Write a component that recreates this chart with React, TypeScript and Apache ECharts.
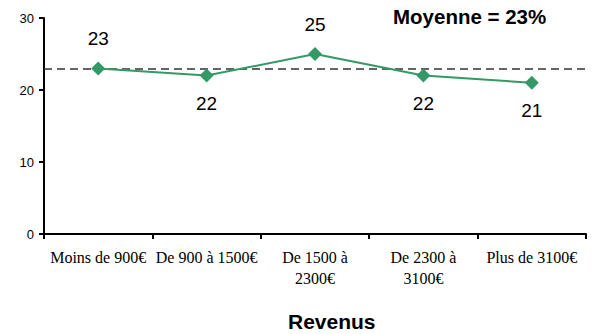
import React, { useEffect, useRef } from "react";
import * as echarts from "echarts";

const categories = [
  "Moins de 900€",
  "De 900 à 1500€",
  "De 1500 à 2300€",
  "De 2300 à 3100€",
  "Plus de 3100€",
];
const wrappedCategories = ["De 1500 à 2300€", "De 2300 à 3100€"];
const values = [23, 22, 25, 22, 21];
const labelPositions = ["top", "bottom", "top", "bottom", "bottom"];
const meanValue = 23;
const meanText = "Moyenne = 23%";
const xAxisTitle = "Revenus";
const yTicks = { min: 0, max: 30, interval: 10 };

export default function App() {
  const ref = useRef<HTMLDivElement>(null);
  useEffect(() => {
    if (!ref.current) return;
    const chart = echarts.init(ref.current, null, { renderer: "svg" });
    chart.setOption({
      animation: false,
      backgroundColor: "#ffffff",
      grid: { left: 44, right: 17, top: 18, bottom: 100 },
      xAxis: {
        type: "category",
        data: categories,
        boundaryGap: true,
        axisLine: { lineStyle: { color: "#000", width: 2 } },
        axisTick: { show: true, length: 5, lineStyle: { color: "#000", width: 2 } },
        axisLabel: {
          color: "#000",
          fontFamily: "Liberation Serif",
          fontSize: 16,
          lineHeight: 21,
          margin: 13,
          interval: 0,
          formatter: (v: string) =>
            wrappedCategories.includes(v) ? v.replace(" à ", " à\n") : v,
        },
      },
      yAxis: {
        type: "value",
        min: yTicks.min,
        max: yTicks.max,
        interval: yTicks.interval,
        splitLine: { show: false },
        axisLine: { show: true, lineStyle: { color: "#000", width: 2 } },
        axisTick: { show: true, length: 5, lineStyle: { color: "#000", width: 2 } },
        axisLabel: {
          color: "#000",
          fontFamily: "Liberation Sans",
          fontSize: 13,
          margin: 10,
        },
      },
      series: [
        {
          type: "line",
          data: values.map((v, i) => ({
            value: v,
            label: { position: labelPositions[i], distance: labelPositions[i] === "top" ? 13 : 11 },
          })),
          symbol: "diamond",
          symbolSize: 14,
          lineStyle: { color: "#339966", width: 2 },
          itemStyle: { color: "#339966" },
          label: {
            show: true,
            color: "#000",
            fontFamily: "Liberation Sans",
            fontSize: 19,
          },
          markLine: {
            silent: true,
            symbol: "none",
            label: { show: false },
            lineStyle: { color: "#333", type: [8, 5], width: 1.5 },
            data: [{ yAxis: meanValue }],
            z: 1,
          },
          z: 3,
        },
      ],
      graphic: [
        {
          type: "text",
          left: 393,
          top: 6,
          style: {
            text: meanText,
            fontFamily: "Liberation Sans",
            fontWeight: "bold",
            fontSize: 20.5,
            fill: "#000",
          },
        },
        {
          type: "text",
          left: 288,
          top: 311,
          style: {
            text: xAxisTitle,
            fontFamily: "Liberation Sans",
            fontWeight: "bold",
            fontSize: 21,
            fill: "#000",
          },
        },
      ],
    });
    return () => chart.dispose();
  }, []);
  return (
    <div
      ref={ref}
      style={{ position: "fixed", left: 0, top: 0, width: 603, height: 334 }}
    />
  );
}
